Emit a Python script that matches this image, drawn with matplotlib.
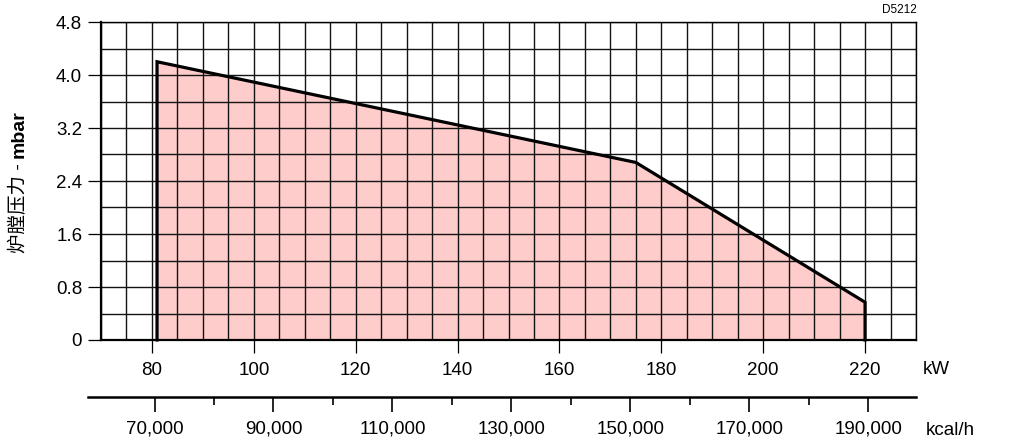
import matplotlib
matplotlib.use("Agg")
import matplotlib.pyplot as plt
from matplotlib.ticker import MultipleLocator, FuncFormatter

plt.rcParams['font.family'] = ['Liberation Sans', 'Noto Sans CJK SC', 'DejaVu Sans']

# working range outline (kW, mbar)
power_kw = [81, 81, 175, 220, 220]
pressure_mbar = [0, 4.2, 2.68, 0.57, 0]

kw_ticks = [80, 100, 120, 140, 160, 180, 200, 220]
kcal_major = [70000, 90000, 110000, 130000, 150000, 170000, 190000]
kcal_minor = [80000, 100000, 120000, 140000, 160000, 180000]
y_ticks = [0, 0.8, 1.6, 2.4, 3.2, 4.0, 4.8]

FS = 13.5

W, H = 1024, 448
fig = plt.figure(figsize=(W / 100, H / 100), dpi=100)

# main chart
ax = fig.add_axes([101 / W, 1 - 340 / H, (916 - 101) / W, (340 - 22) / H])
ax.set_xlim(70, 230)
ax.set_ylim(0, 4.8)

ax.fill_between(power_kw, pressure_mbar, 0, color='#ffcccc', linewidth=0, zorder=1)
ax.plot(power_kw, pressure_mbar, color='black', linewidth=2.3, zorder=3,
        solid_joinstyle='miter', clip_on=False)

ax.set_xticks(kw_ticks)
ax.xaxis.set_minor_locator(MultipleLocator(5))
ax.set_yticks(y_ticks)
ax.yaxis.set_minor_locator(MultipleLocator(0.4))
ax.yaxis.set_major_formatter(FuncFormatter(lambda v, p: '0' if v == 0 else f'{v:.1f}'))
ax.grid(True, which='both', color='#141414', linewidth=1.0)

ax.tick_params(axis='both', which='major', direction='out', length=9.5, width=0.9,
               labelsize=FS, colors='black')
ax.tick_params(axis='x', which='major', pad=6)
ax.tick_params(axis='y', which='major', pad=4)
ax.tick_params(which='minor', length=0)

for side in ['left', 'bottom']:
    ax.spines[side].set_linewidth(1.6)
for side in ['top', 'right']:
    ax.spines[side].set_linewidth(1.0)

# secondary kcal/h scale
ax2 = fig.add_axes([88 / W, 1 - 396.7 / H, (916 - 88) / W, 0.001])
ax2.set_xlim(58804, 198058)
ax2.set_ylim(0, 1)
ax2.set_yticks([])
for side in ['left', 'right', 'top']:
    ax2.spines[side].set_visible(False)
ax2.spines['bottom'].set_linewidth(1.8)
ax2.set_xticks(kcal_major)
ax2.set_xticks(kcal_minor, minor=True)
ax2.xaxis.set_major_formatter(FuncFormatter(lambda v, p: f'{int(v):,}'))
ax2.tick_params(axis='x', which='major', direction='out', length=11, width=1.2,
                labelsize=FS, pad=6)
ax2.tick_params(axis='x', which='minor', direction='out', length=6, width=1.2)
ax2.patch.set_visible(False)

# unit labels
fig.text(936 / W, 1 - 370 / H, 'kW', fontsize=FS, ha='center', va='center')
fig.text(950 / W, 1 - 430 / H, 'kcal/h', fontsize=FS, ha='center', va='center')

# y label: Chinese part regular, unit bold
fig.text(19 / W, 1 - 158 / H, '炉膛压力 - ', rotation=90, fontsize=14,
         ha='center', va='top')
fig.text(19 / W, 1 - 158 / H, 'mbar', rotation=90, fontsize=14, fontweight='bold',
         ha='center', va='bottom')

fig.text(917 / W, 1 - 10 / H, 'D5212', fontsize=8.5, ha='right', va='center')

fig.savefig('out.png', dpi=100)
